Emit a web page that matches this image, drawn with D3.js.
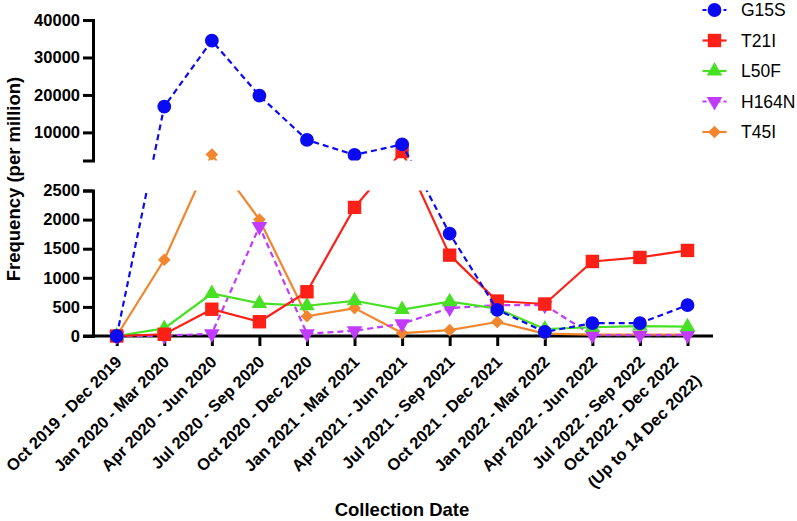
<!DOCTYPE html>
<html><head><meta charset="utf-8">
<script src="https://cdn.jsdelivr.net/npm/d3@7"></script>
<style>body{margin:0;background:#fff}svg{display:block}</style>
</head><body>
<svg id="chart" width="797" height="521"></svg>
<script>
// ---------- data ----------
const categories = ["Oct 2019 - Dec 2019","Jan 2020 - Mar 2020","Apr 2020 - Jun 2020","Jul 2020 - Sep 2020","Oct 2020 - Dec 2020","Jan 2021 - Mar 2021","Apr 2021 - Jun 2021","Jul 2021 - Sep 2021","Oct 2021 - Dec 2021","Jan 2022 - Mar 2022","Apr 2022 - Jun 2022","Jul 2022 - Sep 2022","Oct 2022 - Dec 2022\n(Up to 14 Dec 2022)"];
const seriesNames = ["G15S","T21I","L50F","H164N","T45I"];
const G15S  = [0,16900,34500,19800,8000,4000,6800,1760,450,70,220,220,530];
const T21I  = [0,30,460,245,760,2210,4900,1390,600,550,1280,1350,1470];
const L50F  = [0,130,730,560,520,605,455,590,470,120,150,170,160];
const H164N = [0,5,40,1880,40,90,210,480,530,530,15,15,15];
const T45I  = [0,1310,4100,2000,340,480,50,100,240,40,25,25,25];
const upperTicks = [10000,20000,30000,40000];
const lowerTicks = [0,500,1000,1500,2000,2500];
const breakValue = 2500;
const upperMax = 40000;

// ---------- styles ----------
const seriesValues = {G15S, T21I, L50F, H164N, T45I};
const colors = {G15S:"#0b0bf2", T21I:"#fd2016", L50F:"#48e024", H164N:"#c13bff", T45I:"#f1862e"};
const dashed = {G15S:true, T21I:false, L50F:false, H164N:true, T45I:false};
const symbolOf = {
  G15S:{type:d3.symbolCircle,size:150,rot:0},
  T21I:{type:d3.symbolSquare,size:180,rot:0},
  L50F:{type:d3.symbolTriangle,size:105,rot:0},
  H164N:{type:d3.symbolTriangle,size:105,rot:180},
  T45I:{type:d3.symbolSquare,size:80,rot:45}
};
const FONT = "'Liberation Sans', Arial, Helvetica, sans-serif";

const svg = d3.select("#chart");
const W = 797, H = 521;
const axisX = 93, baseY = 336;
const lowTop = 190.5, upBottom = 160.5, upTop = 20;

const x = d3.scalePoint().domain(categories).range([116.7, 687.5]);
const yLow = d3.scaleLinear().domain([0, breakValue]).range([baseY, lowTop]);
const yHigh = d3.scaleLinear().domain([breakValue, upperMax]).range([upBottom, upTop]);
const yMap = v => v <= breakValue ? yLow(v) : yHigh(v);

// clip paths
const defs = svg.append("defs");
defs.append("clipPath").attr("id","clipUp").append("rect")
  .attr("x",0).attr("y",0).attr("width",W).attr("height",upBottom);
defs.append("clipPath").attr("id","clipLow").append("rect")
  .attr("x",0).attr("y",lowTop).attr("width",W).attr("height",H-lowTop);

// ---------- axes ----------
function styleAxis(g){
  g.selectAll("path.domain").attr("stroke","#000").attr("stroke-width",3);
  g.selectAll(".tick line").attr("stroke","#000").attr("stroke-width",3);
  g.selectAll(".tick text").attr("fill","#000").style("font-family",FONT)
    .style("font-weight","bold").style("font-size","16.5px");
}
const fmt = d3.format("d");
const gUp = svg.append("g").attr("transform",`translate(${axisX},0)`)
  .call(d3.axisLeft(yHigh).tickValues(upperTicks).tickFormat(fmt).tickSize(10).tickSizeOuter(10).tickPadding(3));
styleAxis(gUp);
const gLow = svg.append("g").attr("transform",`translate(${axisX},0)`)
  .call(d3.axisLeft(yLow).tickValues(lowerTicks).tickFormat(fmt).tickSize(10).tickSizeOuter(10).tickPadding(3));
styleAxis(gLow);

const gX = svg.append("g").attr("transform",`translate(0,${baseY})`)
  .call(d3.axisBottom(x).tickSize(10).tickSizeOuter(0));
gX.select("path.domain").remove();
gX.selectAll(".tick line").attr("stroke","#000").attr("stroke-width",3);
gX.selectAll(".tick text").remove();
svg.append("line").attr("x1",axisX-10).attr("x2",713).attr("y1",baseY).attr("y2",baseY)
  .attr("stroke","#000").attr("stroke-width",3);

// x tick labels, rotated
const xl = svg.append("g").attr("class","xlabels");
categories.forEach((c,i) => {
  const lines = c.split("\n");
  const tx = x(c);
  if (lines.length === 1) {
    xl.append("text").attr("transform",`translate(${tx+6},${baseY+27}) rotate(-45)`)
      .attr("text-anchor","end").text(lines[0]);
  } else {
    const t = xl.append("text").attr("transform",`translate(${tx-8},${baseY+27}) rotate(-45)`)
      .attr("text-anchor","end");
    t.append("tspan").attr("x",0).attr("dy",0).text(lines[0]);
    t.append("tspan").attr("x",3).attr("dy",29).text(lines[1]);
  }
});
xl.selectAll("text").style("font-family",FONT).style("font-weight","bold")
  .style("font-size","16.5px").attr("fill","#000");

// axis titles
svg.append("text").attr("x",402).attr("y",516).attr("text-anchor","middle")
  .style("font-family",FONT).style("font-weight","bold").style("font-size","18.5px")
  .text("Collection Date");
svg.append("text").attr("transform","translate(20,179) rotate(-90)").attr("text-anchor","middle")
  .style("font-family",FONT).style("font-weight","bold").style("font-size","18.5px")
  .text("Frequency (per million)");

// ---------- series ----------
const line = d3.line().x((d,i)=>x(categories[i])).y(d=>yMap(d));
function symPath(name){
  const s = symbolOf[name];
  return d3.symbol().type(s.type).size(s.size)();
}
function drawSeries(g){
  seriesNames.slice().reverse().forEach(name => {
    const vals = seriesValues[name];
    const sg = g.append("g");
    sg.append("path").attr("d", line(vals)).attr("fill","none")
      .attr("stroke",colors[name]).attr("stroke-width",2.2)
      .attr("stroke-dasharray", dashed[name] ? "6,4" : null);
    sg.selectAll("path.mk").data(vals).join("path").attr("class","mk")
      .attr("d", symPath(name))
      .attr("transform",(d,i)=>`translate(${x(categories[i])},${yMap(d)}) rotate(${symbolOf[name].rot})`)
      .attr("fill",colors[name]);
  });
}
drawSeries(svg.append("g").attr("clip-path","url(#clipUp)"));
drawSeries(svg.append("g").attr("clip-path","url(#clipLow)"));

// ---------- legend ----------
const leg = svg.append("g");
seriesNames.forEach((name,i) => {
  const cy = 10 + i*30.5;
  const r = leg.append("g").attr("transform",`translate(714.5,${cy})`);
  r.append("line").attr("x1",-12).attr("x2",12).attr("y1",0).attr("y2",0)
    .attr("stroke",colors[name]).attr("stroke-width",2.2)
    .attr("stroke-dasharray", dashed[name] ? "4,3" : null);
  r.append("path").attr("d",symPath(name)).attr("transform",`rotate(${symbolOf[name].rot})`)
    .attr("fill",colors[name]);
  leg.append("text").attr("x",741).attr("y",cy+6.3).text(name)
    .style("font-family",FONT).style("font-size","17.5px").attr("fill","#000");
});
</script>
</body></html>
